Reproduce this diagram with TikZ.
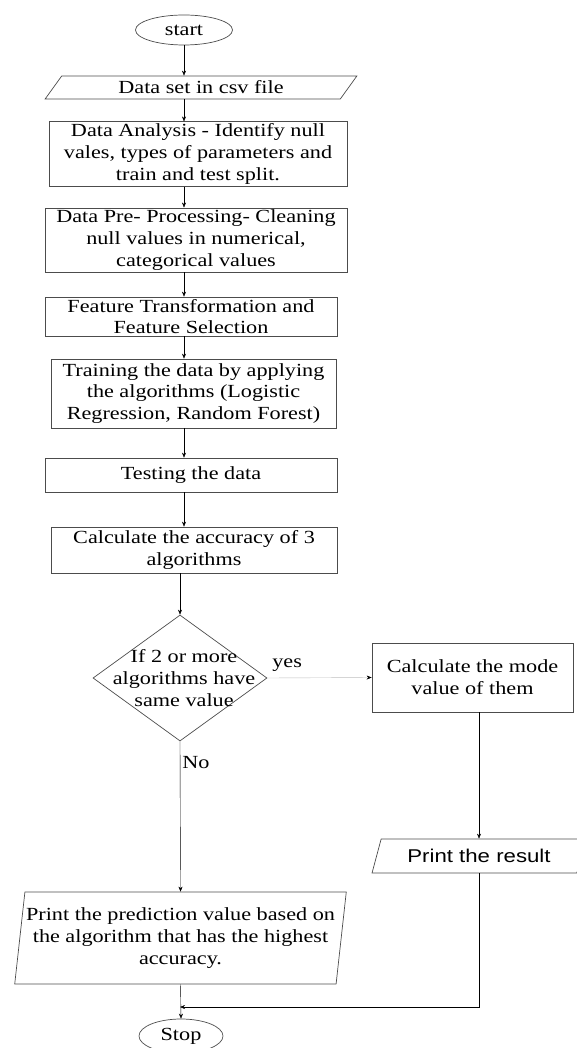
\documentclass[tikz,border=0pt]{standalone}
\usepackage{fontspec}
\setmainfont{Liberation Serif}[FakeStretch=1.2]
\newfontfamily\sansfont{Liberation Sans}[FakeStretch=1.2]
\usetikzlibrary{arrows.meta,shapes.geometric}

\begin{document}
\begin{tikzpicture}[x=1pt, y=-1pt,
  txt/.style={font=\fontsize{18.5}{21.7}\selectfont},
  box/.style={txt, draw=black!70, line width=0.7pt, align=center, inner sep=2pt,
              minimum width=#1},
  box/.default=290pt,
  io/.style={box=#1, trapezium, trapezium stretches=true, inner xsep=1pt},
  term/.style={txt, draw=black!70, line width=0.7pt, ellipse, inner sep=0pt},
  decision/.style={draw=black!70, line width=0.7pt, diamond, inner sep=0pt,
                   minimum width=174pt, minimum height=126pt},
  lbl/.style={txt, inner sep=1pt},
  >={Stealth[length=5pt, width=4pt]}]
  \useasboundingbox (0,0) rectangle (576,1048);
  % main column
  \node[term, minimum width=97pt, minimum height=30pt] (start) at (184,30) {start};
  \node[io=312pt, minimum height=23pt, trapezium left angle=60, trapezium right angle=120]
       (data) at (201,87.5) {Data set in csv file};
  \node[box=298pt, minimum height=64pt] (analysis) at (198,154)
       {Data Analysis - Identify null\\vales, types of parameters and\\train and test split.};
  \node[box=302pt, minimum height=64pt] (preproc) at (196,240)
       {Data Pre- Processing- Cleaning\\null values in numerical,\\categorical values};
  \node[box=292pt, minimum height=39pt] (feature) at (191,316.5)
       {Feature Transformation and\\Feature Selection};
  \node[box=285pt, minimum height=69pt] (training) at (193.5,393.5)
       {Training the data by applying\\the algorithms (Logistic\\Regression, Random Forest)};
  \node[box=292pt, minimum height=34pt] (testing) at (191,475) {Testing the data};
  \node[box=286pt, minimum height=46pt] (accuracy) at (194,550)
       {Calculate the accuracy of 3\\algorithms};
  % decision and the two branches
  \node[decision] (same) at (180,678) {};
  \node[lbl, align=center] (sametext) at (184,678) {If 2 or more\\algorithms have\\same value};
  \node[box=201pt, minimum height=69pt] (mode) at (472.5,677.5) {Calculate the mode\\value of them};
  \node[io=214pt, minimum height=34pt, trapezium left angle=69, trapezium right angle=111]
       (result) at (479,856) {\sansfont Print the result};
  \node[io=333pt, minimum height=92pt, trapezium left angle=81, trapezium right angle=99]
       (predict) at (180.5,938)
       {Print the prediction value based on\\the algorithm that has the highest\\accuracy.};
  \node[term, minimum width=84pt, minimum height=34pt] (stop) at (181,1036) {Stop};
  \coordinate (join) at (180,1007);
  \draw[->] (start.south) -- (start.south |- data.north);
  \draw[->] (data.south -| start) -- (analysis.north -| start);
  \draw[->] (analysis.south -| start) -- (preproc.north -| start);
  \draw[->] (preproc.south -| start) -- (feature.north -| start);
  \draw[->] (feature.south -| start) -- (training.north -| start);
  \draw[->] (training.south -| start) -- (testing.north -| start);
  \draw[->] (testing.south -| start) -- (accuracy.north -| start);
  \draw[->] (accuracy.south -| same) -- (same.north);
  \draw[-{Stealth[length=5pt, width=4pt, color=black]}, draw=black!25]
       (same.east) -- node[lbl, pos=0.19, above=5pt] {yes} (mode.west);
  \draw[->] (same.south) -- node[lbl, pos=0.14, right=1pt] {No} (predict.north);
  \draw[->] (result.north |- mode.south) -- (result.north);
  \draw[->] (result.south) |- (join);
  \draw[->] (predict.south) -- (stop.north);
\end{tikzpicture}
\end{document}
